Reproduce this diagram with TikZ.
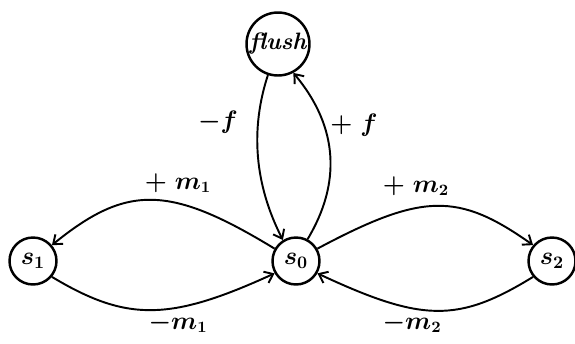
\documentclass[tikz,border=0pt]{standalone}
\usepackage{amsmath}
\usetikzlibrary{arrows.meta}
\begin{document}
\begin{tikzpicture}[x=0.02cm,y=0.02cm,
  state/.style={circle,draw,line width=1.4pt,inner sep=0pt,minimum size=0.94cm,
    font=\fontsize{14}{16}\selectfont\boldmath},
  bigstate/.style={state,minimum size=1.26cm,font=\fontsize{13.5}{15}\selectfont\bfseries\itshape},
  lbl/.style={inner sep=1pt,font=\fontsize{13.5}{15}\selectfont\boldmath},
  arc/.style={line width=1.1pt,-{Straight Barb[length=4.5pt,width=7pt]}}]
\useasboundingbox (0,0) rectangle (575,343);
\node[bigstate] (flush) at (278,299) {flush};
\node[state] (s0) at (296,82) {$s_0$};
\node[state] (s1) at (33,82) {$s_1$};
\node[state] (s2) at (552,82) {$s_2$};
\draw[arc] (s0.150) .. controls +(-105,64) and +(75,61) .. (s1.40);
\draw[arc] (s1.-40) .. controls +(75,-45) and +(-105,-48) .. (s0.-150);
\draw[arc] (s0.30) .. controls +(105,56) and +(-75,53) .. (s2.140);
\draw[arc] (s2.-140) .. controls +(-75,-46) and +(105,-49) .. (s0.-30);
\draw[arc] (flush.-108) .. controls +(-18,-55) and +(-28,55) .. (s0.122);
\draw[arc] (s0.62) .. controls +(33,55) and +(46,-55) .. (flush.-62);
\node[lbl] (lmf) at (218,221) {$-f$};
\node[lbl] (lpf) at (354,218) {$+\ f$};
\node[lbl] (lpm1) at (178,160) {$+\ m_1$};
\node[lbl] (lmm1) at (178,20) {$-m_1$};
\node[lbl] (lpm2) at (416,157) {$+\ m_2$};
\node[lbl] (lmm2) at (412,20) {$-m_2$};
\end{tikzpicture}
\end{document}
